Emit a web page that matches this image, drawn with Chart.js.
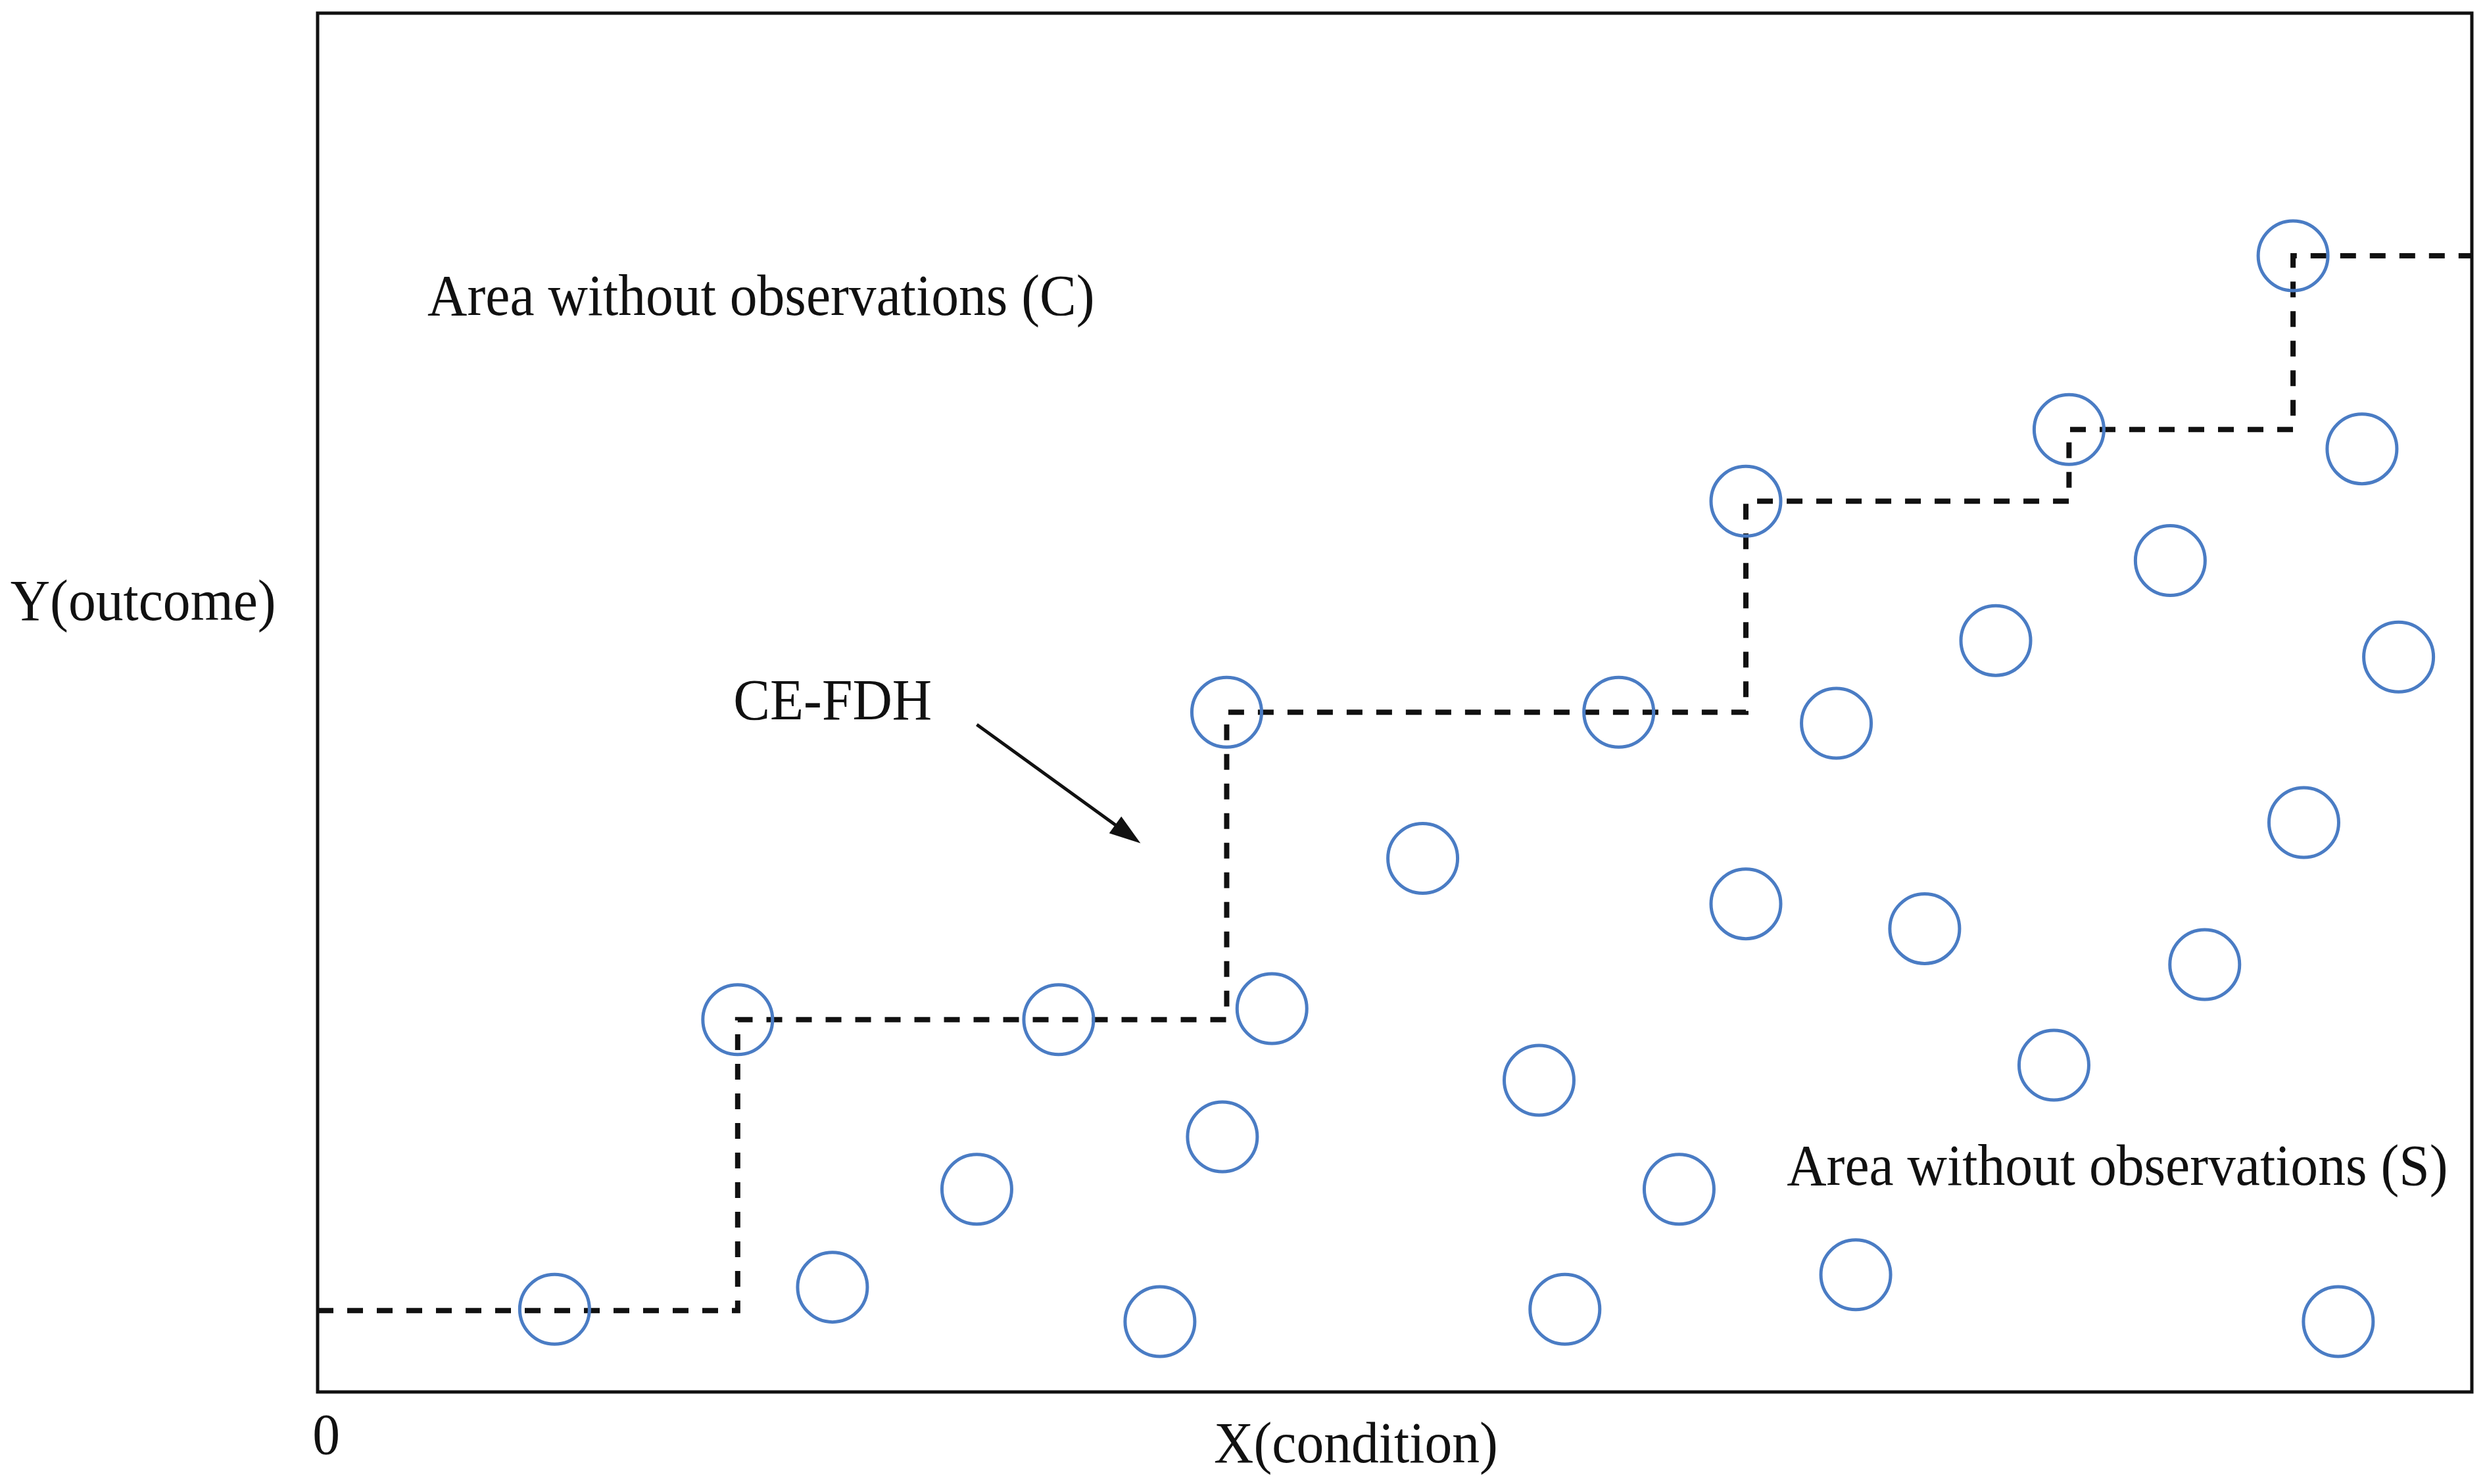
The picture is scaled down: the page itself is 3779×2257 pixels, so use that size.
<!DOCTYPE html>
<html>
<head>
<meta charset="utf-8">
<script src="https://cdn.jsdelivr.net/npm/chart.js@4"></script>
<style>
body{margin:0;background:#fff;}
canvas{display:block;}
</style>
</head>
<body>
<canvas id="chart" width="3779" height="2257"></canvas>
<script>

/* DATA */

let obsX = [11.0, 19.5, 23.9, 30.6, 34.4, 39.1, 42.0, 42.2, 44.3, 51.3, 56.7, 57.9, 60.4, 63.2, 66.3,
66.3, 70.5, 71.4, 74.6, 77.9, 80.6, 81.3, 86.0, 87.6, 91.7, 92.2, 93.8, 94.9, 96.6];
let obsY = [6.0, 27.0, 7.6, 14.7, 27.0, 5.1, 18.5, 49.3, 27.8, 38.7, 22.6, 6.0, 49.3, 14.7, 64.6,
35.4, 48.5, 8.5, 33.6, 54.5, 23.7, 69.8, 60.3, 31.0, 82.4, 41.3, 5.1, 68.4, 53.3];

// ceiling line corners (CE-FDH)
let stepX = [0, 19.5, 42.2, 66.3, 81.3, 91.7, 100];
let stepY = [5.9, 27.0, 49.3, 64.6, 69.8, 82.4, 82.4];

let arrowFrom = [30.6, 48.4];
let arrowTo = [38.2, 39.8];

let labels = [
{text:"Area without observations (C)", x:5.1, y:79.2, align:"left"},
{text:"Area without observations (S)", x:68.2, y:16.1, align:"left"},
{text:"CE-FDH", x:19.3, y:49.9, align:"left"},
{text:"Y(outcome)", x:-8.1, y:57.1, align:"center"},
{text:"X(condition)", x:48.2, y:-4.0, align:"center"},
{text:"0", x:0.4, y:-3.4, align:"center"}
];


/* PLUGIN: frame, arrow, texts */

const extras = {
id:"extras",
afterDraw(c){
let ctx = c.ctx;
let xs = c.scales.x, ys = c.scales.y;
let a = c.chartArea;

ctx.save();
ctx.strokeStyle = "#111";
ctx.lineWidth = 5;
ctx.strokeRect(a.left, a.top, a.right-a.left, a.bottom-a.top);

// arrow
let x1 = xs.getPixelForValue(arrowFrom[0]), y1 = ys.getPixelForValue(arrowFrom[1]);
let x2 = xs.getPixelForValue(arrowTo[0]), y2 = ys.getPixelForValue(arrowTo[1]);
let ang = Math.atan2(y2-y1, x2-x1);
ctx.lineWidth = 5;
ctx.beginPath();
ctx.moveTo(x1,y1);
ctx.lineTo(x2-30*Math.cos(ang), y2-30*Math.sin(ang));
ctx.stroke();
ctx.fillStyle = "#111";
ctx.beginPath();
ctx.moveTo(x2,y2);
ctx.lineTo(x2-50*Math.cos(ang-0.32), y2-50*Math.sin(ang-0.32));
ctx.lineTo(x2-50*Math.cos(ang+0.32), y2-50*Math.sin(ang+0.32));
ctx.closePath();
ctx.fill();

// texts
ctx.font = "88px 'Liberation Serif'";
ctx.textBaseline = "middle";
labels.forEach(l=>{
ctx.save();
ctx.translate(xs.getPixelForValue(l.x), ys.getPixelForValue(l.y));
ctx.scale(0.95,1);
ctx.textAlign = l.align;
ctx.fillText(l.text, 0, 0);
ctx.restore();
});

ctx.restore();
}
};


/* CHART */

new Chart(document.getElementById("chart"),{
type:"scatter",
data:{
datasets:[
{
data: obsX.map((x,i)=>({x:x, y:obsY[i]})),
pointStyle:"circle",
pointRadius:53,
borderWidth:5,
borderColor:"#4a7cc4",
backgroundColor:"rgba(0,0,0,0)",
order:0
},
{
type:"line",
data: stepX.map((x,i)=>({x:x, y:stepY[i]})),
stepped:"before",
borderColor:"#111",
borderWidth:8,
borderDash:[24,21],
pointRadius:0,
fill:false,
order:1
}
]
},
options:{
responsive:false,
animation:false,
events:[],
layout:{autoPadding:false, padding:{left:483, top:20, right:20, bottom:140}},
plugins:{legend:{display:false}, tooltip:{enabled:false}},
scales:{
x:{type:"linear", min:0, max:100, display:false},
y:{type:"linear", min:0, max:100, display:false}
}
},
plugins:[extras]
});

</script>
</body>
</html>
